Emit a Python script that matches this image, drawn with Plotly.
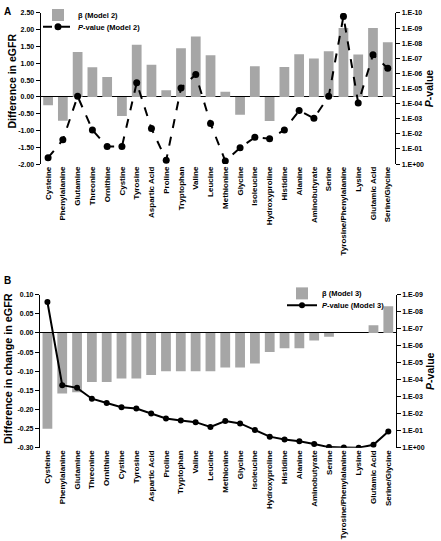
import math
import plotly.graph_objects as go

categories = ["Cysteine", "Phenylalanine", "Glutamine", "Threonine", "Ornithine", "Cystine",
              "Tyrosine", "Aspartic Acid", "Proline", "Tryptophan", "Valine", "Leucine",
              "Methionine", "Glycine", "Isoleucine", "Hydroxyproline", "Histidine", "Alanine",
              "Aminobutyrate", "Serine", "Tyrosine/Phenylalanine", "Lysine", "Glutamic Acid",
              "Serine/Glycine"]

beta_model2 = [-0.25, -0.71, 1.34, 0.88, 0.59, -0.57, 1.55, 0.96, 0.20, 1.45, 1.80, 1.24,
               0.15, -0.53, 0.91, -0.72, 0.89, 1.27, 1.14, 1.36, 2.05, 1.26, 2.05, 1.63]
p_model2 = [3.8e-1, 2.5e-2, 3.3e-5, 5.5e-3, 6.9e-2, 6.9e-2, 4.2e-6, 4.5e-3, 5.5e-1, 9.3e-6,
            1.2e-6, 2.1e-3, 6.3e-1, 8.3e-2, 1.7e-2, 2.1e-2, 5.5e-3, 2.9e-4, 9.3e-4, 3.3e-5,
            1.7e-10, 9.1e-5, 5.9e-8, 4.5e-7]

beta_model3 = [-0.250, -0.158, -0.155, -0.128, -0.128, -0.119, -0.119, -0.110, -0.100, -0.100,
               -0.100, -0.100, -0.090, -0.090, -0.080, -0.050, -0.040, -0.040, -0.020, -0.010,
               0.000, 0.000, 0.020, 0.070]
p_model3 = [2.7e-9, 2.1e-4, 3.0e-4, 1.3e-3, 2.3e-3, 4.1e-3, 4.9e-3, 9.5e-3, 1.9e-2, 2.5e-2,
            3.1e-2, 5.9e-2, 2.7e-2, 3.7e-2, 9.1e-2, 0.22, 0.32, 0.41, 0.60, 0.91, 0.95, 0.98,
            0.66, 0.11]

p_threshold = 1e-3

top_left_ticks = [2.5, 2.0, 1.5, 1.0, 0.5, 0.0, -0.5, -1.0, -1.5, -2.0]
top_right_exps = list(range(-10, 1))
bot_left_ticks = [0.10, 0.05, 0.00, -0.05, -0.10, -0.15, -0.20, -0.25, -0.30]
bot_right_exps = list(range(-9, 1))


def fmt_exp(e):
    if e == 0:
        return "1.E+00"
    return "1.E-%02d" % (-e)


FONT = "Liberation Sans, Arial, sans-serif"
GRAY = "#A6A6A6"
LEGFONT = dict(family=FONT, size=7.5, color="black")

fig = go.Figure()

fig.add_trace(go.Bar(x=categories, y=beta_model2, marker_color=GRAY, width=0.66,
                     marker_line_width=0,
                     name="<b>β (Model 2)</b>", xaxis="x", yaxis="y", legend="legend"))
fig.add_trace(go.Scatter(x=categories, y=p_model2, mode="lines+markers",
                         line=dict(color="black", width=2, dash="dash"),
                         marker=dict(color="black", size=7),
                         name="<b><i>P</i>-value (Model 2)</b>", xaxis="x", yaxis="y2",
                         legend="legend3"))

fig.add_trace(go.Bar(x=categories, y=beta_model3, marker_color=GRAY, width=0.66,
                     marker_line_width=0,
                     name="<b>β (Model 3)</b>", xaxis="x2", yaxis="y3", legend="legend2"))
fig.add_trace(go.Scatter(x=categories, y=p_model3, mode="lines+markers",
                         line=dict(color="black", width=2),
                         marker=dict(color="black", size=6),
                         name="<b><i>P</i>-value (Model 3)</b>", xaxis="x2", yaxis="y4",
                         legend="legend4"))

tickfont = dict(family=FONT, size=7, color="black")
catfont = dict(family=FONT, size=8, color="black")

top_x = [0.0923, 0.896]
top_y = [0.7006, 0.9815]
bot_x = [0.0907, 0.8973]
bot_y = [0.1732, 0.4579]

yaxis_common = dict(showline=True, linecolor="black", linewidth=1.2, ticks="outside",
                    ticklen=4, tickcolor="black", tickwidth=1, showgrid=False,
                    tickfont=tickfont, automargin=False)

xaxis_common = dict(type="category", tickangle=-90, tickfont=catfont, tickvals=categories,
                    ticktext=["<b>%s</b>" % c for c in categories],
                    showline=False, ticks="", showgrid=False, zeroline=False,
                    range=[-0.5, len(categories) - 0.5], automargin=False)

boundaries = [i + 0.5 for i in range(len(categories) - 1)]
zero_tick_common = dict(type="linear", range=[-0.5, len(categories) - 0.5], anchor="free",
                        tickvals=boundaries, showticklabels=False, showline=False,
                        showgrid=False, zeroline=False, ticklen=3, tickwidth=1,
                        tickcolor="black", automargin=False)

thr = math.log10(p_threshold)


def legend_at(x_px, y_px):
    return dict(x=x_px / 441, y=1 - y_px / 541, xanchor="left", yanchor="middle",
                bgcolor="rgba(0,0,0,0)", font=LEGFONT, itemwidth=30, borderwidth=0)


def vtitle(text, x_px, y_px, size):
    return dict(text=text, x=x_px / 441, y=1 - y_px / 541, xref="paper", yref="paper",
                xanchor="center", yanchor="middle", textangle=-90, showarrow=False,
                font=dict(family=FONT, size=size, color="black"))


fig.update_layout(
    template="none",
    width=441, height=541,
    margin=dict(l=0, r=0, t=0, b=0, pad=0),
    paper_bgcolor="white", plot_bgcolor="white",
    showlegend=True,
    font=dict(family=FONT, color="black"),
    xaxis=dict(domain=top_x, anchor="y", **xaxis_common),
    yaxis=dict(domain=top_y, anchor="x", range=[-2.0, 2.5], tickvals=top_left_ticks,
               ticktext=["<b>%.2f</b>" % v for v in top_left_ticks],
               zeroline=True, zerolinecolor="black", zerolinewidth=1.2,
               **yaxis_common),
    yaxis2=dict(overlaying="y", anchor="x", side="right", type="log", range=[0, -10],
                tickvals=[10.0 ** e for e in top_right_exps],
                ticktext=["<b>%s</b>" % fmt_exp(e) for e in top_right_exps],
                zeroline=False,
                title=dict(text="<b><i>P</i>-value</b>", font=dict(family=FONT, size=10.5),
                           standoff=2),
                **yaxis_common),
    xaxis3=dict(overlaying="x", position=1 - 95 / 541, ticks="outside", **zero_tick_common),
    xaxis2=dict(domain=bot_x, anchor="y3", **xaxis_common),
    yaxis3=dict(domain=bot_y, anchor="x2", range=[-0.30, 0.10], tickvals=bot_left_ticks,
                ticktext=["<b>%.2f</b>" % v for v in bot_left_ticks],
                zeroline=True, zerolinecolor="black", zerolinewidth=1.2,
                **yaxis_common),
    yaxis4=dict(overlaying="y3", anchor="x2", side="right", type="log", range=[0, -9],
                tickvals=[10.0 ** e for e in bot_right_exps],
                ticktext=["<b>%s</b>" % fmt_exp(e) for e in bot_right_exps],
                zeroline=False,
                title=dict(text="<b><i>P</i>-value</b>", font=dict(family=FONT, size=10.5),
                           standoff=2),
                **yaxis_common),
    xaxis4=dict(overlaying="x2", position=1 - 331.7 / 541, ticks="inside", **zero_tick_common),
    legend=legend_at(38, 12),
    legend3=legend_at(38, 24),
    legend2=legend_at(282, 292),
    legend4=legend_at(282, 304),
    shapes=[
        dict(type="line", xref="x domain", yref="y2", x0=0, x1=1, y0=thr, y1=thr,
             line=dict(color="black", width=1.5, dash="dash")),
        dict(type="line", xref="x2 domain", yref="y4", x0=0, x1=1, y0=thr, y1=thr,
             line=dict(color="black", width=1.5, dash="dash")),
    ],
    annotations=[
        dict(text="<b>A</b>", x=0.005, y=0.998, xref="paper", yref="paper", xanchor="left",
             yanchor="top", showarrow=False, font=dict(family=FONT, size=10)),
        dict(text="<b>B</b>", x=0.005, y=1 - 272 / 541, xref="paper", yref="paper",
             xanchor="left", yanchor="top", showarrow=False, font=dict(family=FONT, size=10)),
        vtitle("<b>Difference in eGFR</b>", 12, 79, 10.5),
        vtitle("<b>Difference in change in eGFR</b>", 8, 368, 10.8),
    ],
)

fig.write_html("out.html", config={"displayModeBar": False},
               post_script="document.body.style.margin='0px';document.body.style.overflow='hidden';")
